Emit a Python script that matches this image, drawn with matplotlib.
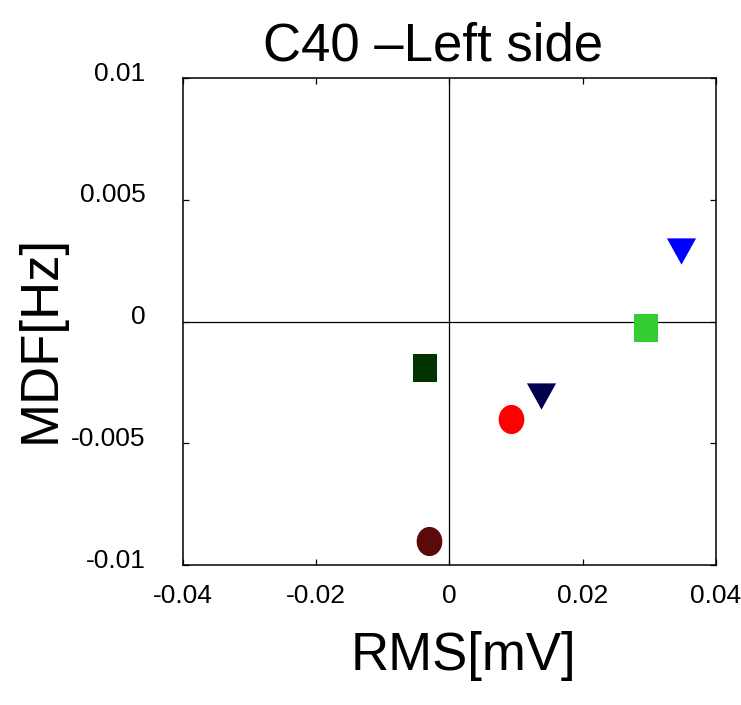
import numpy as np
import matplotlib
matplotlib.use("Agg")
import matplotlib.pyplot as plt
from matplotlib.path import Path
from matplotlib.transforms import ScaledTranslation

plt.rcParams['font.family'] = ['Liberation Sans', 'DejaVu Sans']

# -----------------------------
# Data (RMS [mV], MDF [Hz])
# -----------------------------
rms = [0.0347, 0.0295, -0.0037, 0.0137, 0.0092, -0.0031]
mdf = [0.00288, -0.00025, -0.0019, -0.00305, -0.0040, -0.0090]
shapes = ["tri", "sq", "sq", "tri", "circ", "circ"]
colors = ["#0000ff", "#33cc33", "#003300", "#00004f", "#ff0000", "#5c0909"]

xticks = [-0.04, -0.02, 0, 0.02, 0.04]
xtick_labels = ["-0.04", "-0.02", "0", "0.02", "0.04"]
yticks = [-0.01, -0.005, 0, 0.005, 0.01]
ytick_labels = ["-0.01", "-0.005", "0", "0.005", "0.01"]

# -----------------------------
# Marker shapes (slightly non-square, like the original export)
# -----------------------------
t = np.linspace(0, 2*np.pi, 60)
circ = Path(np.column_stack([0.44*np.cos(t), 0.5*np.sin(t)]), closed=True)
sq = Path([(-0.44, -0.5), (0.44, -0.5), (0.44, 0.5), (-0.44, 0.5), (-0.44, -0.5)], closed=True)
tri = Path([(-0.5, 0.45), (0.5, 0.45), (0, -0.45), (-0.5, 0.45)], closed=True)
marker_paths = {"circ": (circ, 21), "sq": (sq, 19.5), "tri": (tri, 21)}

# -----------------------------
# Plot
# -----------------------------
fig = plt.figure(figsize=(7.41, 7.05), dpi=100)
ax = fig.add_axes([0.247, 0.1986, 0.719, 0.6905])

ax.axhline(0, color="black", lw=0.9, zorder=1)
ax.axvline(0, color="black", lw=0.9, zorder=1)

for x, y, s, c in zip(rms, mdf, shapes, colors):
    path, ms = marker_paths[s]
    ax.plot(x, y, linestyle="none", marker=path, markersize=ms,
            color=c, markeredgewidth=0, zorder=3)

ax.set_xlim(-0.04, 0.04)
ax.set_ylim(-0.01, 0.01)
ax.set_xticks(xticks)
ax.set_xticklabels(xtick_labels)
ax.set_yticks(yticks)
ax.set_yticklabels(ytick_labels)

ax.tick_params(direction="in", length=4, width=0.9, top=True, right=True,
               labelsize=19)
ax.tick_params(axis="x", pad=14)
ax.tick_params(axis="y", pad=27)
for sp in ax.spines.values():
    sp.set_linewidth(1.1)

for lbl in ax.get_yticklabels():
    lbl.set_transform(lbl.get_transform() + ScaledTranslation(0, 5/72, fig.dpi_scale_trans))

ax.set_title("C40 \u2013Left side", fontsize=38, pad=13)
ax.title.set_x(0.47)

ax.set_xlabel("RMS[mV]", fontsize=38)
ax.xaxis.set_label_coords(0.527, -0.2156)
ax.xaxis.label.set_va("baseline")

ax.set_ylabel("MDF[Hz]", fontsize=38)
ax.yaxis.set_label_coords(-0.241, 0.465)
ax.yaxis.label.set_va("baseline")

fig.savefig("out.png", dpi=100)
